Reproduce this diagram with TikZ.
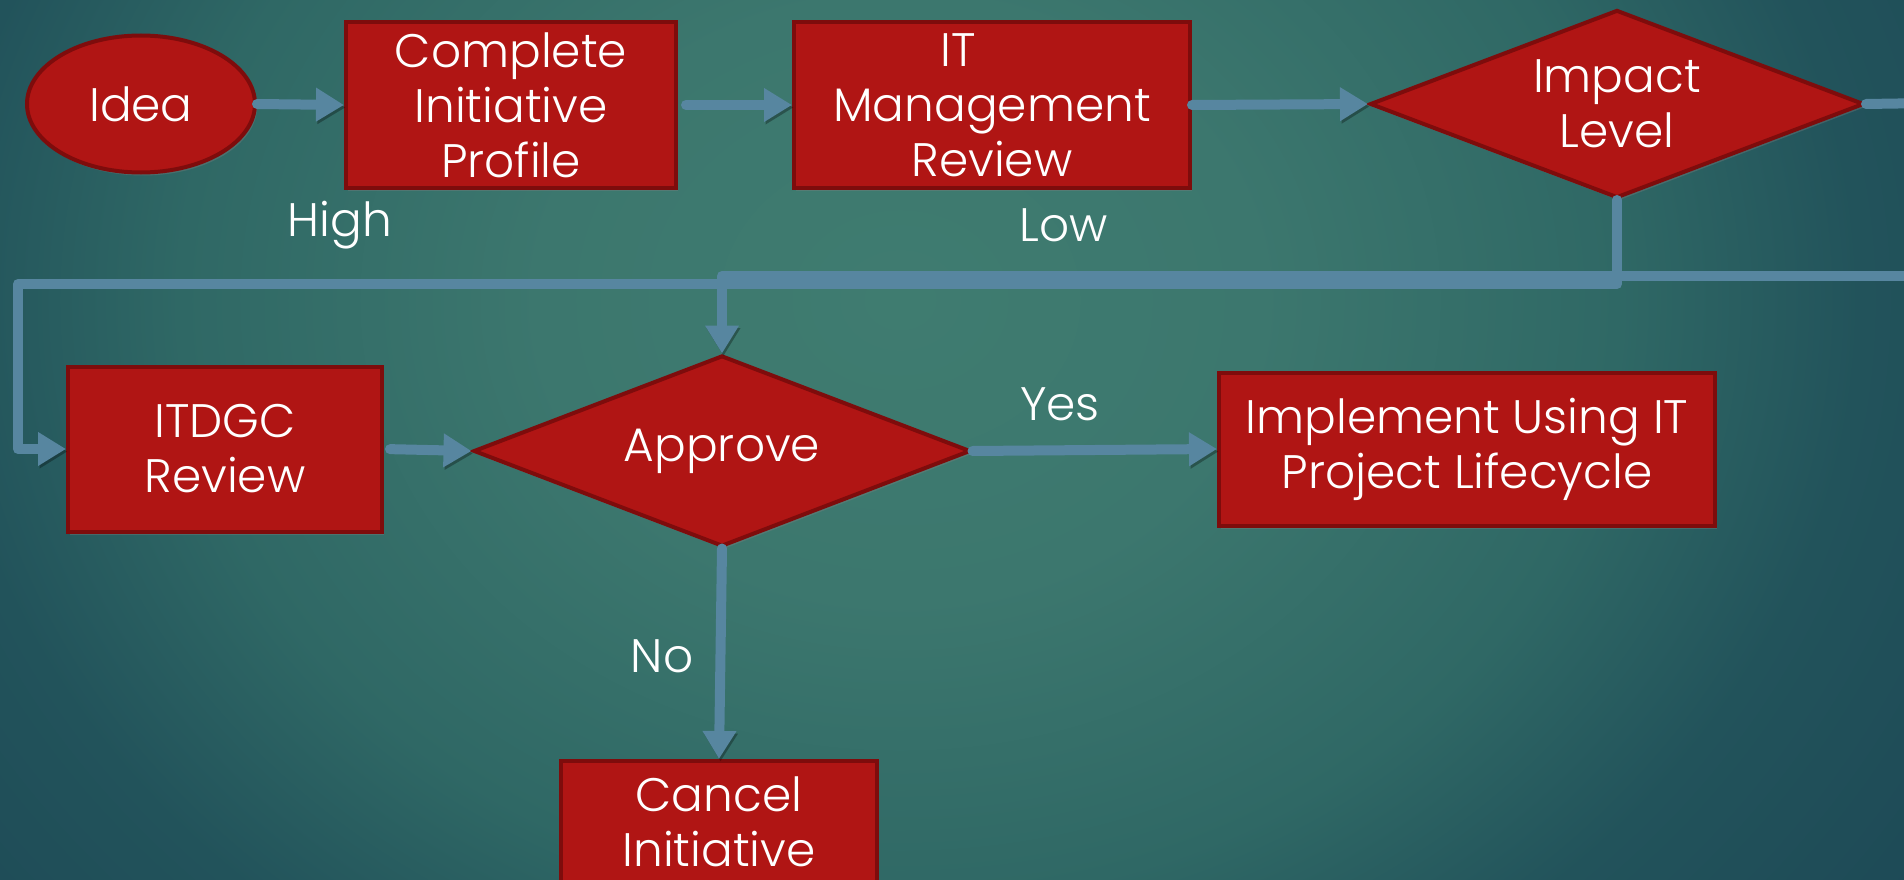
\documentclass[tikz,border=0pt]{standalone}
\usepackage{fontspec}
\setmainfont{Poppins}[UprightFont=* Light]
\usetikzlibrary{arrows.meta,shapes.geometric,shadows}

\definecolor{bgA}{HTML}{3F7C70}
\definecolor{bgB}{HTML}{3C776E}
\definecolor{bgC}{HTML}{2F6865}
\definecolor{bgD}{HTML}{22535B}
\definecolor{bgE}{HTML}{1E4B57}
\definecolor{bgF}{HTML}{193F4F}
\definecolor{boxred}{HTML}{B01514}
\definecolor{boxedge}{HTML}{7E0C0C}
\definecolor{conncol}{HTML}{5786A0}

\pgfdeclareradialshading{bgshade}{\pgfpoint{0bp}{0bp}}{color(0bp)=(bgA); color(7.5bp)=(bgB); color(15bp)=(bgC); color(20bp)=(bgD); color(25bp)=(bgE); color(32.5bp)=(bgF); color(100bp)=(bgF)}

\tikzset{
  shape base/.style={draw=boxedge, line width=4pt, fill=boxred, text=white, align=center,
    font=\fontsize{47}{55}\selectfont, inner sep=0pt,
    drop shadow={shadow xshift=2pt, shadow yshift=-3pt, opacity=0.35}},
  rbox/.style={shape base, rectangle},
  dbox/.style={shape base, diamond},
  ebox/.style={shape base, ellipse},
  lbl/.style={text=white, font=\fontsize{47}{55}\selectfont, inner sep=0pt},
  cline/.style={draw=conncol, line width=10pt, line cap=round, line join=round,
    preaction={draw=black, opacity=0.3, transform canvas={shift={(1.5pt,-2.5pt)}}}},
  carrow/.style={cline, -{Triangle[length=28pt,width=32pt]}},
}

\begin{document}
\begin{tikzpicture}[x=1pt,y=-1pt]
\clip (0,0) rectangle (1904,880);
\shade[shading=bgshade] (-300,-700) rectangle (2100,1300);

% nodes
\node[ebox, minimum width=228pt, minimum height=137pt] (idea) at (141,104) {Idea};
\node[rbox, minimum width=330pt, minimum height=166pt] (cip) at (511,105) {Complete\\Initiative\\Profile};
\node[rbox, minimum width=396pt, minimum height=166pt] (itm) at (992,105) {IT\hspace*{68pt}\\Management\\Review};
\node[dbox, shape aspect=2.63, minimum width=494pt, minimum height=188pt] (imp) at (1617,104) {Impact\\Level};
\node[rbox, minimum width=314pt, minimum height=165pt] (itdgc) at (225,449) {ITDGC\\Review};
\node[dbox, shape aspect=2.6, minimum width=497pt, minimum height=191pt] (appr) at (722,451) {Approve};
\node[rbox, minimum width=496pt, minimum height=153pt] (impl) at (1467,449) {Implement Using IT\\Project Lifecycle};
\node[rbox, minimum width=316pt, minimum height=122pt] (cancel) at (719,822) {Cancel\\Initiative};

% labels
\node[lbl] (high) at (340,225) {High};
\node[lbl] (low) at (1064,225) {Low};
\node[lbl] (yes) at (1060,404) {Yes};
\node[lbl] (no) at (662,656) {No};

% free ends
\coordinate (aout) at (1930,103);
\coordinate (acorner) at (18,284);
\coordinate (bin) at (1930,276);

% connectors
\draw[carrow] (idea.east) -- (cip.west);
\draw[carrow, shorten <=8pt] (cip.east) -- (itm.west);
\draw[carrow] (itm.east) -- (imp.west);
\draw[cline] (imp.east) -- (aout);
\draw[carrow] (imp.south) |- (acorner) |- (itdgc.west);
\draw[carrow] (bin) -| (appr.north);
\draw[carrow, shorten <=6pt] (itdgc.east) -- (appr.west);
\draw[carrow] (appr.east) -- (impl.west);
\draw[carrow] (appr.south) -- (cancel.north);
\end{tikzpicture}
\end{document}
